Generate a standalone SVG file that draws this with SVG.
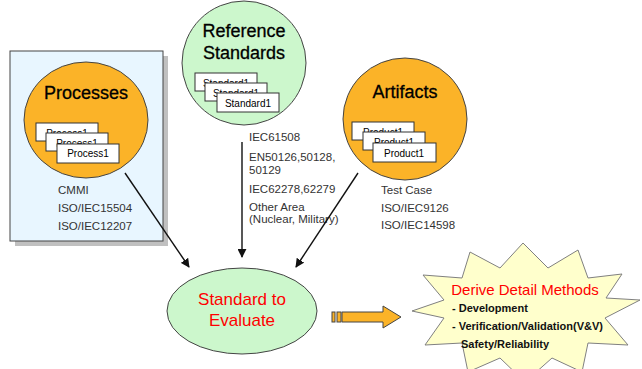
<svg xmlns="http://www.w3.org/2000/svg" width="642" height="369" viewBox="0 0 642 369">
  <defs>
    <marker id="arrowhead" viewBox="0 0 10 10" refX="9" refY="5" markerWidth="9" markerHeight="9" markerUnits="userSpaceOnUse" orient="auto">
      <path d="M0,0 L10,5 L0,10 z" fill="#111"/>
    </marker>
    <style>
      text { font-family: "Liberation Sans", Arial, sans-serif; }
      .title { font-size: 18px; fill: #000; stroke: #000; stroke-width: 0.3; text-anchor: middle; }
      .label { font-size: 11.5px; fill: #333; }
      .card rect { fill: #fff; stroke: #333; stroke-width: 1; }
      .card text { font-size: 10px; fill: #000; text-anchor: middle; }
      .orange { fill: #FBB328; stroke: #444; stroke-width: 1; }
      .green { fill: #CCF7CC; stroke: #444; stroke-width: 1; }
      .conn { stroke: #111; stroke-width: 1.4; fill: none; marker-end: url(#arrowhead); }
      .red { fill: #FF0000; text-anchor: middle; }
      .item { font-size: 11px; font-weight: bold; fill: #111; }
    </style>
  </defs>

  <rect width="642" height="369" fill="#fff"/>

  <!-- Processes panel -->
  <g id="processes">
    <rect x="15" y="56" width="153" height="190" fill="#C0C0C0"/>
    <rect x="10" y="51" width="153" height="190" fill="#E8F6FF" stroke="#444" stroke-width="1"/>
    <ellipse class="orange" cx="86" cy="120" rx="62" ry="58"/>
    <text class="title" x="86" y="99">Processes</text>
    <g class="card">
      <rect x="36" y="123" width="62" height="18"/><text x="67" y="137">Process1</text>
      <rect x="46" y="133" width="62" height="18"/><text x="77" y="147">Process1</text>
      <rect x="57" y="144" width="62" height="19"/><text x="88" y="157">Process1</text>
    </g>
    <text class="label" x="58" y="194">CMMI</text>
    <text class="label" x="58" y="212">ISO/IEC15504</text>
    <text class="label" x="58" y="230">ISO/IEC12207</text>
  </g>

  <!-- Reference standards -->
  <g id="reference-standards">
    <ellipse class="green" cx="244" cy="63" rx="62" ry="62"/>
    <text class="title" x="244" y="37">Reference</text>
    <text class="title" x="244" y="59">Standards</text>
    <g class="card">
      <rect x="195" y="73" width="62" height="18"/><text x="226" y="87">Standard1</text>
      <rect x="205" y="83" width="62" height="18"/><text x="236" y="97">Standard1</text>
      <rect x="217" y="93" width="62" height="19"/><text x="248" y="107">Standard1</text>
    </g>
    <text class="label" x="249" y="141">IEC61508</text>
    <text class="label" x="249" y="161">EN50126,50128,</text>
    <text class="label" x="249" y="174">50129</text>
    <text class="label" x="249" y="193">IEC62278,62279</text>
    <text class="label" x="249" y="211">Other Area</text>
    <text class="label" x="249" y="223">(Nuclear, Military)</text>
  </g>

  <!-- Artifacts -->
  <g id="artifacts">
    <ellipse class="orange" cx="405" cy="119" rx="62" ry="61"/>
    <text class="title" x="405" y="98">Artifacts</text>
    <g class="card">
      <rect x="352" y="122" width="62" height="18"/><text x="383" y="136">Product1</text>
      <rect x="363" y="132" width="62" height="18"/><text x="394" y="146">Product1</text>
      <rect x="373" y="143" width="63" height="19"/><text x="404" y="157">Product1</text>
    </g>
    <text class="label" x="381" y="194">Test Case</text>
    <text class="label" x="381" y="212">ISO/IEC9126</text>
    <text class="label" x="381" y="229">ISO/IEC14598</text>
  </g>

  <!-- Standard to evaluate -->
  <g id="standard-to-evaluate">
    <ellipse class="green" cx="242" cy="311" rx="75" ry="43"/>
    <text class="red" x="242" y="305" font-size="17">Standard to</text>
    <text class="red" x="242" y="326" font-size="17">Evaluate</text>
  </g>

  <!-- Derive detail methods (starburst) -->
  <g id="derive-methods">
    <polygon fill="#FFFFCC" stroke="#808080" stroke-width="1"
      points="640,300 605,318 628,345 588,343 582,372 552,358 525,382 500,358 468,372 462,343 425,345 444,318 412,311 444,300 423,275 462,278 470,252 500,268 523,243 548,268 578,250 588,278 622,274 606,298"/>
    <text class="red" x="525" y="295" font-size="15">Derive Detail Methods</text>
    <text class="item" x="452" y="312">- Development</text>
    <text class="item" x="452" y="330">- Verification/Validation(V&amp;V)</text>
    <text class="item" x="461" y="348">Safety/Reliability</text>
  </g>

  <!-- Connectors -->
  <g id="connectors">
    <line class="conn" x1="125" y1="173" x2="189" y2="267"/>
    <line class="conn" x1="242" y1="142" x2="242" y2="257"/>
    <line class="conn" x1="358" y1="173" x2="296" y2="267"/>
    <g id="block-arrow">
      <rect class="orange" x="332" y="312" width="3" height="10"/>
      <rect class="orange" x="337" y="312" width="4" height="10"/>
      <path class="orange" d="M342,312 L383,312 L383,306 L401,317 L383,328 L383,322 L342,322 z"/>
    </g>
  </g>
</svg>
